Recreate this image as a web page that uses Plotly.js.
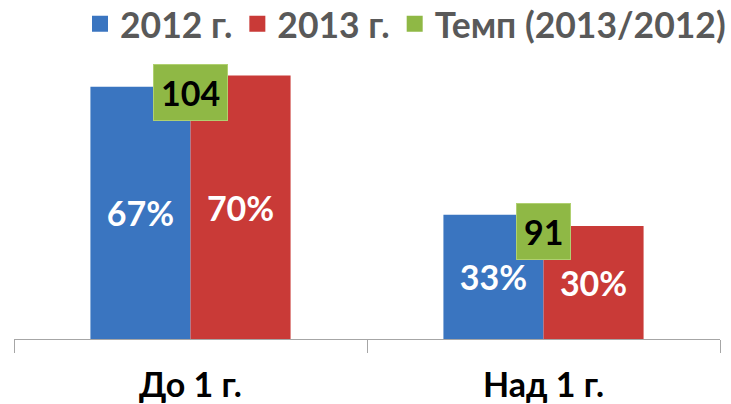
<!DOCTYPE html>
<html><head><meta charset="utf-8">
<script src="https://cdn.plot.ly/plotly-3.0.1.min.js"></script>
<style>html,body{margin:0;padding:0;background:#fff}#chart{width:731px;height:404px}</style>
</head><body><div id="chart"></div>
<script>
const categories = ["До 1 г.", "Над 1 г."];
const values2012 = [67, 33];
const values2013 = [70, 30];
const tempo = [104, 91];
const seriesNames = ["2012 г.", "2013 г.", "Темп (2013/2012)"];

const FONT = "Lato, 'Open Sans', sans-serif";
const BLUE = "#3a75c0", RED = "#c93a37", GREEN = "#8fb845";

const barText = arr => arr.map(v => v + "%");

const traces = [
  {type: "bar", x: categories, y: values2012, name: seriesNames[0], showlegend: false,
   marker: {color: BLUE}, text: barText(values2012), textposition: "inside",
   insidetextanchor: "middle", textangle: 0,
   textfont: {family: FONT, size: 34, color: "#ffffff", weight: "bold"}, hoverinfo: "skip"},
  {type: "bar", x: categories, y: values2013, name: seriesNames[1], showlegend: false,
   marker: {color: RED}, text: barText(values2013), textposition: "inside",
   insidetextanchor: "middle", textangle: 0,
   textfont: {family: FONT, size: 34, color: "#ffffff", weight: "bold"}, hoverinfo: "skip"},
  {type: "scatter", mode: "markers", x: [null], y: [null], name: seriesNames[0],
   marker: {symbol: "square", size: 17, color: BLUE}},
  {type: "scatter", mode: "markers", x: [null], y: [null], name: seriesNames[1],
   marker: {symbol: "square", size: 17, color: RED}},
  {type: "scatter", mode: "markers", x: [null], y: [null], name: seriesNames[2],
   marker: {symbol: "square", size: 17, color: GREEN}}
];

const annotations = categories.map((c, i) => ({
  x: c, y: (values2012[i] + values2013[i]) / 2, xref: "x", yref: "y",
  text: "<b>" + tempo[i] + "</b>", showarrow: false,
  yanchor: "middle", xanchor: "center", yshift: -11,
  font: {family: FONT, size: 34, color: "#000000"},
  bgcolor: GREEN, bordercolor: "#b0d070", borderwidth: 1, borderpad: 7
}));

const layout = {
  width: 731, height: 404,
  margin: {l: 14, r: 11, t: 60, b: 65},
  paper_bgcolor: "#ffffff", plot_bgcolor: "#ffffff",
  barmode: "group", bargap: 0.433, bargroupgap: 0,
  font: {family: FONT},
  xaxis: {
    type: "category", showline: true, linecolor: "#a6a6a6", linewidth: 1,
    ticks: "outside", tickson: "boundaries", ticklen: 13, tickcolor: "#a6a6a6",
    ticklabelstandoff: 16,
    tickfont: {family: FONT, size: 34, color: "#000000", weight: "bold"},
    showgrid: false, zeroline: false, fixedrange: true, automargin: false
  },
  yaxis: {range: [0, 74.1], visible: false, showgrid: false, zeroline: false, fixedrange: true},
  legend: {
    orientation: "h", x: 0.556, xanchor: "center", xref: "paper",
    y: 0.94, yanchor: "middle", yref: "container",
    font: {family: FONT, size: 35.5, color: "#595959", weight: "bold"},
    itemsizing: "trace", traceorder: "normal", itemwidth: 30
  },
  annotations: annotations,
  showlegend: true
};

Plotly.newPlot("chart", traces, layout, {displayModeBar: false, staticPlot: true});
</script>
</body></html>
